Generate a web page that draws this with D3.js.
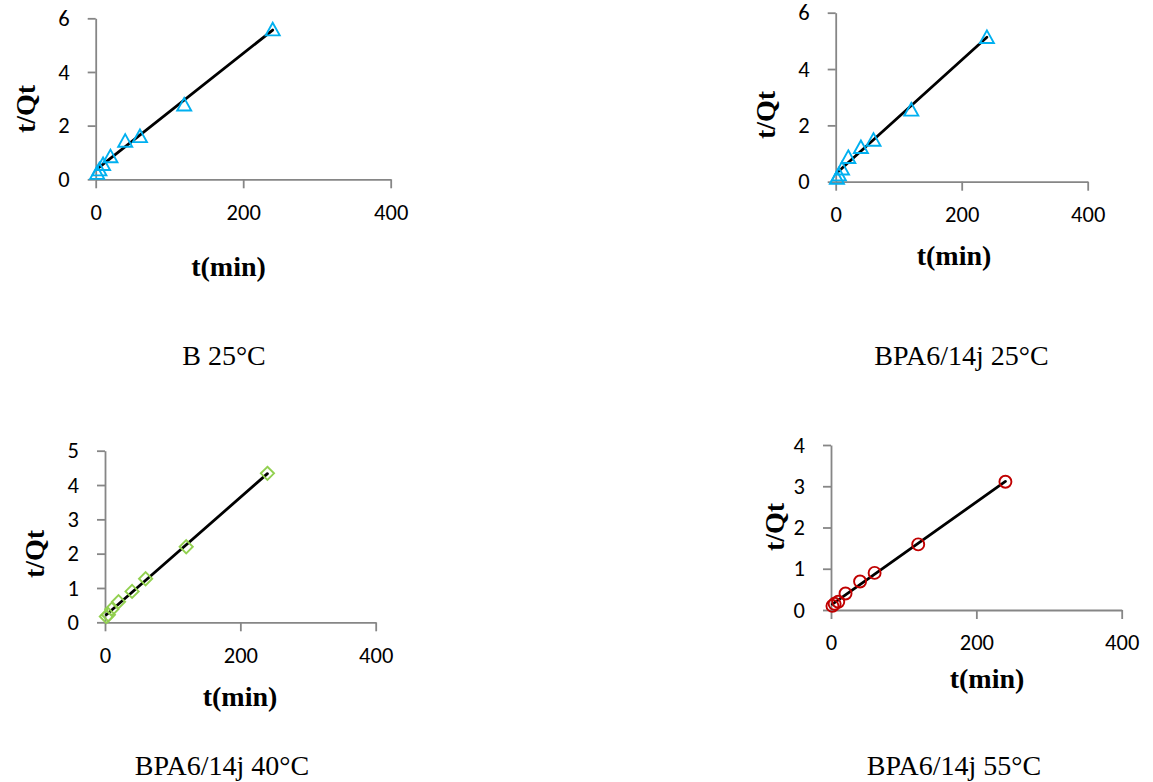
<!DOCTYPE html>
<html>
<head>
<meta charset="utf-8">
<script src="https://cdn.jsdelivr.net/npm/d3@7"></script>
<style>
  html, body { margin: 0; padding: 0; background: #fff; }
  svg { display: block; }
</style>
</head>
<body>
<svg id="chart" width="1153" height="782"></svg>
<script>
// Contact time (min) shared by all four kinetic runs
const timeMin = [2, 5, 10, 20, 40, 60, 120, 240];

// t/Qt values for each adsorbent / temperature
const tQtB25 = [0.25, 0.38, 0.58, 0.87, 1.45, 1.62, 2.8, 5.6];
const tQtBPA25 = [0.15, 0.27, 0.48, 0.89, 1.24, 1.5, 2.57, 5.15];
const tQtBPA40 = [0.17, 0.22, 0.38, 0.6, 0.9, 1.27, 2.2, 4.34];
const tQtBPA55 = [0.1, 0.15, 0.2, 0.4, 0.69, 0.9, 1.59, 3.11];

// Captions under each plot
const captions = ["B 25°C", "BPA6/14j 25°C", "BPA6/14j 40°C", "BPA6/14j 55°C"];

// Axis ticks
const xTicks = [0, 200, 400];
const yTicksTop = [0, 2, 4, 6];
const yTicks40 = [0, 1, 2, 3, 4, 5];
const yTicks55 = [0, 1, 2, 3, 4];

// Series styles
const seriesColor = ["#00B0F0", "#00B0F0", "#92D050", "#C00000"];
const seriesMarker = ["triangle", "triangle", "diamond", "circle"];

// Panel geometry (pixel frame of each plot area)
const panels = [
  { values: tQtB25, yTicks: yTicksTop, left: 95.7, right: 390.7, bottom: 179.3, top: 18.3,
    xTitle: [228.5, 276], yTitle: [25, 109], caption: [224, 365] },
  { values: tQtBPA25, yTicks: yTicksTop, left: 835.7, right: 1087.7, bottom: 181.7, top: 12.7,
    xTitle: [954, 265], yTitle: [765, 115], caption: [961.5, 365] },
  { values: tQtBPA40, yTicks: yTicks40, left: 105, right: 375.7, bottom: 622.3, top: 450.7,
    xTitle: [240, 706], yTitle: [34, 554], caption: [222, 775] },
  { values: tQtBPA55, yTicks: yTicks55, left: 831, right: 1121.7, bottom: 610, top: 445,
    xTitle: [987, 688], yTitle: [774, 527], caption: [954, 775] }
];

const svg = d3.select("#chart");
const axisColor = "#868686";
const tickFont = "Carlito, Calibri, Lato, 'Open Sans', sans-serif";
const serifFont = "'Liberation Serif', 'Times New Roman', serif";

// Least-squares linear fit
function linearFit(xs, ys) {
  const mx = d3.mean(xs), my = d3.mean(ys);
  let sxy = 0, sxx = 0;
  xs.forEach((x, i) => { sxy += (x - mx) * (ys[i] - my); sxx += (x - mx) * (x - mx); });
  const slope = sxy / sxx;
  return { slope, intercept: my - slope * mx };
}

function markerPath(kind) {
  if (kind === "triangle") return "M0,-6.3L7,6.3L-7,6.3Z";
  if (kind === "diamond") return "M0,-6.6L6.6,0L0,6.6L-6.6,0Z";
  return d3.arc()({ innerRadius: 0, outerRadius: 6, startAngle: 0, endAngle: 2 * Math.PI });
}

panels.forEach((p, k) => {
  const yMax = d3.max(p.yTicks);
  const x = d3.scaleLinear().domain([0, 400]).range([p.left, p.right]);
  const y = d3.scaleLinear().domain([0, yMax]).range([p.bottom, p.top]);
  const g = svg.append("g");

  // x axis
  const xAxis = g.append("g")
    .attr("transform", `translate(0,${p.bottom})`)
    .call(d3.axisBottom(x).tickValues(xTicks).tickSize(9).tickSizeOuter(0).tickPadding(10)
      .tickFormat(d3.format("d")));
  // y axis
  const yAxis = g.append("g")
    .attr("transform", `translate(${p.left},0)`)
    .call(d3.axisLeft(y).tickValues(p.yTicks).tickSize(8).tickSizeOuter(0).tickPadding(18)
      .tickFormat(d3.format("d")));

  [xAxis, yAxis].forEach(a => {
    a.select(".domain").attr("stroke", axisColor).attr("stroke-width", 1.8);
    a.selectAll(".tick line").attr("stroke", axisColor).attr("stroke-width", 1.8);
    a.selectAll(".tick text").attr("fill", "#000")
      .style("font-family", tickFont).style("font-size", "22.5px");
  });
  xAxis.selectAll(".tick text").attr("dy", "0.95em");

  // Trend line over the measured time range
  const fit = linearFit(timeMin, p.values);
  const t0 = d3.min(timeMin), t1 = d3.max(timeMin);
  g.append("line")
    .attr("x1", x(t0)).attr("y1", y(fit.intercept + fit.slope * t0))
    .attr("x2", x(t1)).attr("y2", y(fit.intercept + fit.slope * t1))
    .attr("stroke", "#000").attr("stroke-width", 2.8).attr("stroke-linecap", "round");

  // Data markers
  g.selectAll("path.pt")
    .data(timeMin.map((t, i) => [t, p.values[i]]))
    .join("path")
    .attr("class", "pt")
    .attr("transform", d => `translate(${x(d[0])},${y(d[1])})`)
    .attr("d", markerPath(seriesMarker[k]))
    .attr("fill", "none")
    .attr("stroke", seriesColor[k])
    .attr("stroke-width", 1.9);

  // Axis titles
  g.append("text")
    .attr("x", p.xTitle[0]).attr("y", p.xTitle[1])
    .attr("text-anchor", "middle")
    .style("font-family", serifFont).style("font-weight", "bold").style("font-size", "28px")
    .text("t(min)");
  g.append("text")
    .attr("transform", `translate(${p.yTitle[0]},${p.yTitle[1]}) rotate(-90)`)
    .attr("text-anchor", "middle").attr("dy", "0.35em")
    .style("font-family", serifFont).style("font-weight", "bold").style("font-size", "28px")
    .text("t/Qt");

  // Caption
  svg.append("text")
    .attr("x", p.caption[0]).attr("y", p.caption[1])
    .attr("text-anchor", "middle")
    .style("font-family", serifFont).style("font-size", "28px")
    .text(captions[k]);
});
</script>
</body>
</html>
